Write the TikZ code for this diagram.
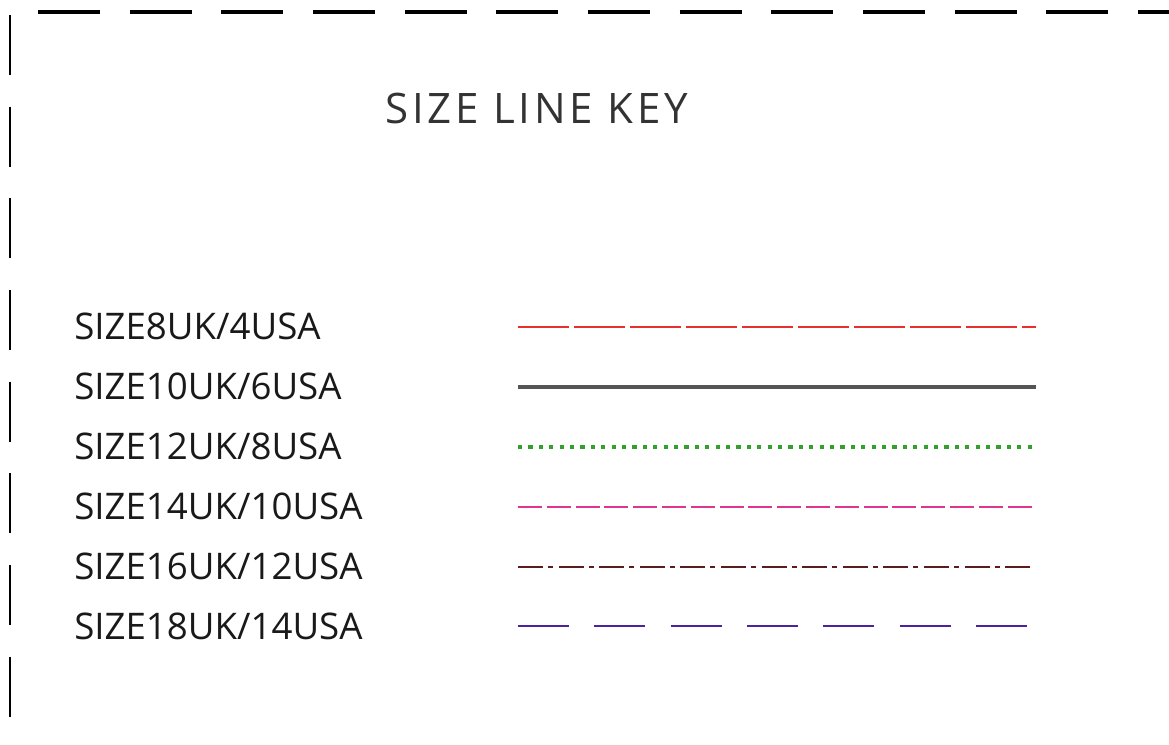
\documentclass[tikz,border=0pt]{standalone}
\usepackage{fontspec}
\setmainfont{Open Sans}
\definecolor{keyred}{HTML}{E8302A}
\definecolor{keygray}{HTML}{555555}
\definecolor{keygreen}{HTML}{34A02C}
\definecolor{keypink}{HTML}{E0358F}
\definecolor{keybrown}{HTML}{5A1C1C}
\definecolor{keyblue}{HTML}{4B22A0}
\tikzset{
  sizelabel/.style={anchor=base west, inner sep=0pt, text=black!90,
    font=\fontsize{27.5}{33}\selectfont},
  keyline/.style={line width=2.1pt}
}
\begin{document}
\begin{tikzpicture}[x=0.75pt, y=-0.75pt]
  \useasboundingbox (0, 0) rectangle (1169, 744);
  % frame
  \draw[line width=3.2pt, dash pattern=on 46.5pt off 22.25pt] (38, 12) -- (1169, 12);
  \draw[line width=1.5pt, dash pattern=on 45pt off 23.75pt] (10, 15) -- (10, 744);
  \node[sizelabel, text=black!80, font=\fontsize{31.5}{38}\selectfont,
    /utils/exec={\addfontfeatures{LetterSpace=9}}] (title) at (385, 123) {SIZE LINE KEY};
  % labels
  \node[sizelabel] (s8) at (74, 339) {SIZE8UK/4USA};
  \node[sizelabel] (s10) at (74, 399) {SIZE10UK/6USA};
  \node[sizelabel] (s12) at (74, 459) {SIZE12UK/8USA};
  \node[sizelabel] (s14) at (74, 519) {SIZE14UK/10USA};
  \node[sizelabel] (s16) at (74, 579) {SIZE16UK/12USA};
  \node[sizelabel] (s18) at (74, 639) {SIZE18UK/14USA};
  % sample lines
  \coordinate (a8) at (518, 327);
  \coordinate (b8) at (1036, 327);
  \coordinate (a10) at (518, 387);
  \coordinate (b10) at (1036, 387);
  \coordinate (a12) at (518, 447);
  \coordinate (b12) at (1034, 447);
  \coordinate (a14) at (518, 507);
  \coordinate (b14) at (1032, 507);
  \coordinate (a16) at (518, 567);
  \coordinate (b16) at (1032, 567);
  \coordinate (a18) at (518, 626);
  \coordinate (b18) at (1028, 626);
  \draw[keyline, keyred, dash pattern=on 38.25pt off 3.75pt] (a8) -- (b8);
  \draw[keyline, keygray, line width=3pt] (a10) -- (b10);
  \draw[keyline, keygreen, line width=3pt, dash pattern=on 3.2pt off 4.6pt] (a12) -- (b12);
  \draw[keyline, keypink, dash pattern=on 18pt off 3.6pt] (a14) -- (b14);
  \draw[keyline, keybrown, dash pattern=on 18.75pt off 3.75pt on 3.75pt off 4.2pt] (a16) -- (b16);
  \draw[keyline, keyblue, dash pattern=on 38.25pt off 19pt] (a18) -- (b18);
\end{tikzpicture}
\end{document}
